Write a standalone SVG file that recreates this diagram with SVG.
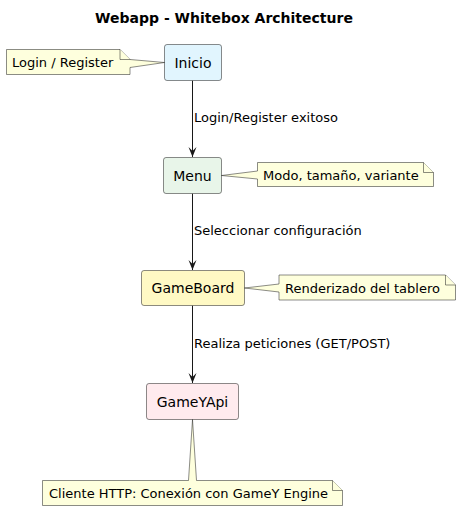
<svg xmlns="http://www.w3.org/2000/svg" width="461" height="511" viewBox="0 0 461 511">
<defs>
<style>
.title{font-family:"DejaVu Sans",sans-serif;font-size:14px;font-weight:bold;fill:#000}
.node rect{stroke:#181818;stroke-width:0.5}
.ntext{font-family:"DejaVu Sans",sans-serif;font-size:14px;fill:#000;text-anchor:middle}
.note path{fill:#FEFFDD;stroke:#181818;stroke-width:0.5}
.nott{font-family:"DejaVu Sans",sans-serif;font-size:13px;fill:#000}
.lbl{font-family:"DejaVu Sans",sans-serif;font-size:13px;fill:#000}
.edge{stroke:#181818;stroke-width:1;fill:none}
</style>
<marker id="arr" viewBox="0 0 10 10" refX="10" refY="5" markerWidth="10" markerHeight="10" markerUnits="userSpaceOnUse" orient="auto">
<path d="M0,1 L10,5 L0,9 L4,5 Z" fill="#181818"/>
</marker>
</defs>
<rect width="461" height="511" fill="#FFFFFF"/>
<text class="title" x="224" y="23" text-anchor="middle">Webapp - Whitebox Architecture</text>

<g id="connectors">
<line class="edge" x1="192.5" y1="80.5" x2="192.5" y2="157" marker-end="url(#arr)"/>
<text class="lbl" x="194" y="122">Login/Register exitoso</text>
<line class="edge" x1="192.5" y1="193.5" x2="192.5" y2="270" marker-end="url(#arr)"/>
<text class="lbl" x="194" y="235">Seleccionar configuración</text>
<line class="edge" x1="192.5" y1="305.5" x2="192.5" y2="383" marker-end="url(#arr)"/>
<text class="lbl" x="194" y="348">Realiza peticiones (GET/POST)</text>
</g>

<g id="inicio" class="node">
<rect x="164.5" y="44.5" width="57" height="36" rx="2.5" fill="#E1F5FE"/>
<text class="ntext" x="193" y="67.5">Inicio</text>
</g>
<g id="menu" class="node">
<rect x="163.5" y="157.5" width="58" height="36" rx="2.5" fill="#E8F5E9"/>
<text class="ntext" x="192.5" y="180.5">Menu</text>
</g>
<g id="gameboard" class="node">
<rect x="141.5" y="270.5" width="103" height="35" rx="2.5" fill="#FFF9C4"/>
<text class="ntext" x="193" y="293">GameBoard</text>
</g>
<g id="gameyapi" class="node">
<rect x="146.5" y="383.5" width="92" height="36" rx="2.5" fill="#FFEBEE"/>
<text class="ntext" x="192.5" y="406.5">GameYApi</text>
</g>

<g id="note-login" class="note">
<path d="M6.5,49.5 L120,49.5 L130,59.5 L164.5,62.5 L130,67.5 L130,74.5 L6.5,74.5 Z"/>
<path d="M120,49.5 L120,59.5 L130,59.5" fill="none"/>
<text class="nott" x="12" y="67">Login / Register</text>
</g>
<g id="note-menu" class="note">
<path d="M257.5,162.5 L423.5,162.5 L433.5,172.5 L433.5,186.5 L257.5,186.5 L257.5,179 L221.5,175.5 L257.5,171 Z"/>
<path d="M423.5,162.5 L423.5,172.5 L433.5,172.5" fill="none"/>
<text class="nott" x="263" y="180">Modo, tamaño, variante</text>
</g>
<g id="note-gameboard" class="note">
<path d="M279,275 L445.5,275 L455.5,285 L455.5,300 L279,300 L279,292 L244.5,288 L279,284 Z"/>
<path d="M445.5,275 L445.5,285 L455.5,285" fill="none"/>
<text class="nott" x="285" y="293">Renderizado del tablero</text>
</g>
<g id="note-gameyapi" class="note">
<path d="M42.5,480.5 L188.5,480.5 L192.5,419.5 L196.5,480.5 L332.5,480.5 L342.5,490.5 L342.5,505.5 L42.5,505.5 Z"/>
<path d="M332.5,480.5 L332.5,490.5 L342.5,490.5" fill="none"/>
<text class="nott" x="49" y="498">Cliente HTTP: Conexión con GameY Engine</text>
</g>
</svg>
